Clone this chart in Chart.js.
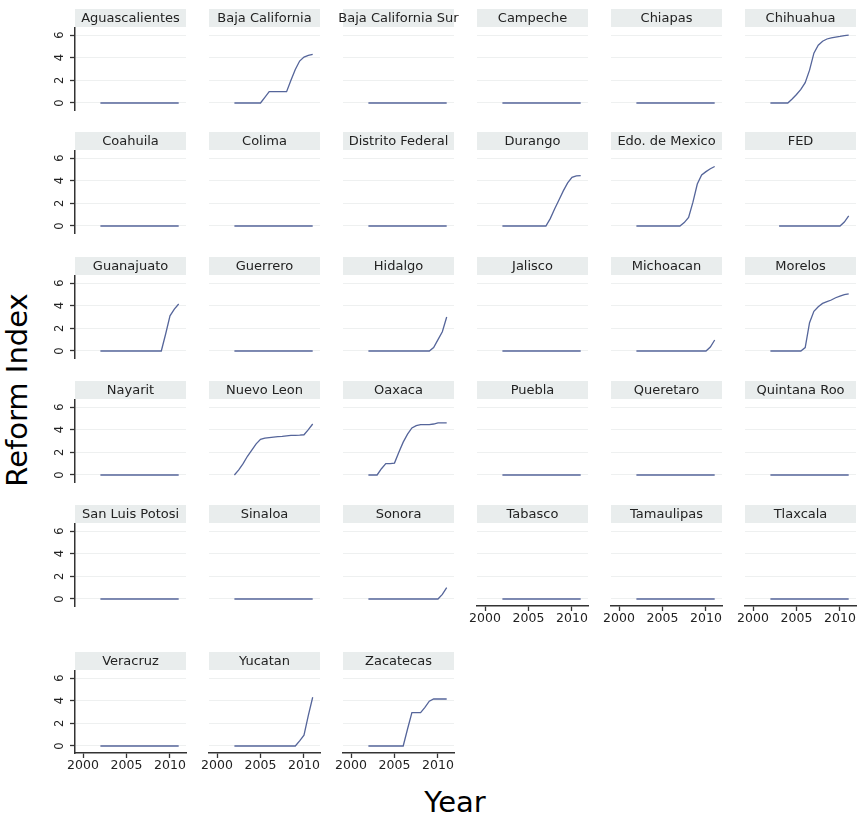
<!DOCTYPE html>
<html>
<head>
<meta charset="utf-8">
<script src="https://cdn.jsdelivr.net/npm/chart.js@4"></script>
<style>
  body { margin: 0; background: #fff; }
  #wrap { position: relative; width: 857px; height: 818px; overflow: hidden; }
  #wrap canvas { position: absolute; }
  .axt { position: absolute; font-family: "DejaVu Sans"; font-size: 29px; line-height: 1; color: #000; white-space: nowrap; }
  #ytitle { left: 17px; top: 390px; transform: translate(-50%, -50%) rotate(-90deg); }
  #xtitle { left: 455px; top: 788px; transform: translateX(-50%); }
</style>
</head>
<body>
<div id="wrap">
  <div class="axt" id="ytitle">Reform Index</div>
  <div class="axt" id="xtitle">Year</div>
</div>
<script>
// half-year periods
const periods = [2002, 2002.5, 2003, 2003.5, 2004, 2004.5, 2005, 2005.5, 2006, 2006.5,
                 2007, 2007.5, 2008, 2008.5, 2009, 2009.5, 2010, 2010.5, 2011];

const states = ['Aguascalientes', 'Baja California', 'Baja California Sur', 'Campeche', 'Chiapas', 'Chihuahua',
  'Coahuila', 'Colima', 'Distrito Federal', 'Durango', 'Edo. de Mexico', 'FED',
  'Guanajuato', 'Guerrero', 'Hidalgo', 'Jalisco', 'Michoacan', 'Morelos',
  'Nayarit', 'Nuevo Leon', 'Oaxaca', 'Puebla', 'Queretaro', 'Quintana Roo',
  'San Luis Potosi', 'Sinaloa', 'Sonora', 'Tabasco', 'Tamaulipas', 'Tlaxcala',
  'Veracruz', 'Yucatan', 'Zacatecas'];

const aguascalientes = [0, 0, 0, 0, 0, 0, 0, 0, 0, 0, 0, 0, 0, 0, 0, 0, 0, 0, 0];
const bajaCalifornia = [0, 0, 0, 0, 0, 0, 0, 0.5, 1, 1, 1, 1, 1, 2, 2.95, 3.7, 4.05, 4.2, 4.3];
const bajaCaliforniaSur = [0, 0, 0, 0, 0, 0, 0, 0, 0, 0, 0, 0, 0, 0, 0, 0, 0, 0, 0];
const campeche = [0, 0, 0, 0, 0, 0, 0, 0, 0, 0, 0, 0, 0, 0, 0, 0, 0, 0, 0];
const chiapas = [0, 0, 0, 0, 0, 0, 0, 0, 0, 0, 0, 0, 0, 0, 0, 0, 0, 0, 0];
const chihuahua = [0, 0, 0, 0, 0, 0.35, 0.75, 1.2, 1.8, 2.9, 4.4, 5.1, 5.45, 5.65, 5.75, 5.82, 5.88, 5.95, 6];
const coahuila = [0, 0, 0, 0, 0, 0, 0, 0, 0, 0, 0, 0, 0, 0, 0, 0, 0, 0, 0];
const colima = [0, 0, 0, 0, 0, 0, 0, 0, 0, 0, 0, 0, 0, 0, 0, 0, 0, 0, 0];
const distritoFederal = [0, 0, 0, 0, 0, 0, 0, 0, 0, 0, 0, 0, 0, 0, 0, 0, 0, 0, 0];
const durango = [0, 0, 0, 0, 0, 0, 0, 0, 0, 0, 0, 0.65, 1.5, 2.3, 3.1, 3.8, 4.3, 4.42, 4.45];
const edoMexico = [0, 0, 0, 0, 0, 0, 0, 0, 0, 0, 0, 0.3, 0.75, 2.1, 3.7, 4.5, 4.8, 5.05, 5.25];
const fed = [null, null, 0, 0, 0, 0, 0, 0, 0, 0, 0, 0, 0, 0, 0, 0, 0, 0.35, 0.9];
const guanajuato = [0, 0, 0, 0, 0, 0, 0, 0, 0, 0, 0, 0, 0, 0, 0, 1.5, 3.1, 3.7, 4.15];
const guerrero = [0, 0, 0, 0, 0, 0, 0, 0, 0, 0, 0, 0, 0, 0, 0, 0, 0, 0, 0];
const hidalgo = [0, 0, 0, 0, 0, 0, 0, 0, 0, 0, 0, 0, 0, 0, 0, 0.3, 1, 1.7, 3];
const jalisco = [0, 0, 0, 0, 0, 0, 0, 0, 0, 0, 0, 0, 0, 0, 0, 0, 0, 0, 0];
const michoacan = [0, 0, 0, 0, 0, 0, 0, 0, 0, 0, 0, 0, 0, 0, 0, 0, 0, 0.35, 0.97];
const morelos = [0, 0, 0, 0, 0, 0, 0, 0, 0.3, 2.5, 3.5, 3.9, 4.2, 4.35, 4.5, 4.7, 4.85, 4.98, 5.05];
const nayarit = [0, 0, 0, 0, 0, 0, 0, 0, 0, 0, 0, 0, 0, 0, 0, 0, 0, 0, 0];
const nuevoLeon = [0, 0.45, 1, 1.65, 2.2, 2.75, 3.15, 3.25, 3.3, 3.35, 3.38, 3.4, 3.45, 3.5, 3.5, 3.52, 3.55, 4, 4.5];
const oaxaca = [0, 0, 0, 0.55, 1, 1, 1.05, 2, 2.9, 3.6, 4.15, 4.35, 4.45, 4.45, 4.45, 4.5, 4.6, 4.6, 4.6];
const puebla = [0, 0, 0, 0, 0, 0, 0, 0, 0, 0, 0, 0, 0, 0, 0, 0, 0, 0, 0];
const queretaro = [0, 0, 0, 0, 0, 0, 0, 0, 0, 0, 0, 0, 0, 0, 0, 0, 0, 0, 0];
const quintanaRoo = [0, 0, 0, 0, 0, 0, 0, 0, 0, 0, 0, 0, 0, 0, 0, 0, 0, 0, 0];
const sanLuisPotosi = [0, 0, 0, 0, 0, 0, 0, 0, 0, 0, 0, 0, 0, 0, 0, 0, 0, 0, 0];
const sinaloa = [0, 0, 0, 0, 0, 0, 0, 0, 0, 0, 0, 0, 0, 0, 0, 0, 0, 0, 0];
const sonora = [0, 0, 0, 0, 0, 0, 0, 0, 0, 0, 0, 0, 0, 0, 0, 0, 0, 0.4, 1];
const tabasco = [0, 0, 0, 0, 0, 0, 0, 0, 0, 0, 0, 0, 0, 0, 0, 0, 0, 0, 0];
const tamaulipas = [0, 0, 0, 0, 0, 0, 0, 0, 0, 0, 0, 0, 0, 0, 0, 0, 0, 0, 0];
const tlaxcala = [0, 0, 0, 0, 0, 0, 0, 0, 0, 0, 0, 0, 0, 0, 0, 0, 0, 0, 0];
const veracruz = [0, 0, 0, 0, 0, 0, 0, 0, 0, 0, 0, 0, 0, 0, 0, 0, 0, 0, 0];
const yucatan = [0, 0, 0, 0, 0, 0, 0, 0, 0, 0, 0, 0, 0, 0, 0, 0.45, 0.95, 2.7, 4.3];
const zacatecas = [0, 0, 0, 0, 0, 0, 0, 0, 0, 1.5, 2.95, 2.95, 2.95, 3.4, 3.95, 4.15, 4.15, 4.15, 4.15];

const stateValues = [aguascalientes, bajaCalifornia, bajaCaliforniaSur, campeche, chiapas, chihuahua,
  coahuila, colima, distritoFederal, durango, edoMexico, fed,
  guanajuato, guerrero, hidalgo, jalisco, michoacan, morelos,
  nayarit, nuevoLeon, oaxaca, puebla, queretaro, quintanaRoo,
  sanLuisPotosi, sinaloa, sonora, tabasco, tamaulipas, tlaxcala,
  veracruz, yucatan, zacatecas];

const yTicks = [0, 2, 4, 6];
const xTicks = [2000, 2005, 2010];

// grid layout (plot-area left edge per column, strip top per row)
const colLeft = [75, 209, 343, 477, 611, 745];
const rowTop = [9, 132, 257, 381, 505, 652];
const AXIS_W = 40, PLOT_W = 111, PAD_R = 10, STRIP_H = 18, PLOT_BOTTOM = 101, XAXIS_H = 34;

const lineColor = '#55659a';
const axisColor = '#333333';
const gridColor = '#eef0f0';

// grey title strip above each panel
const stripPlugin = {
  id: 'strip',
  beforeDraw(chart, args, opts) {
    const { ctx, chartArea } = chart;
    ctx.save();
    ctx.fillStyle = '#e9eded';
    ctx.fillRect(chartArea.left, 0, chartArea.right - chartArea.left, STRIP_H);
    ctx.fillStyle = '#222';
    ctx.font = '13px "DejaVu Sans"';
    ctx.textAlign = 'center';
    ctx.textBaseline = 'middle';
    ctx.fillText(opts.text, (chartArea.left + chartArea.right) / 2, STRIP_H / 2 + 0.5);
    ctx.restore();
  }
};

const wrap = document.getElementById('wrap');

states.forEach((name, i) => {
  const row = Math.floor(i / 6), col = i % 6;
  const hasY = col === 0;
  const hasX = i + 6 >= states.length;

  const canvas = document.createElement('canvas');
  canvas.width = AXIS_W + PLOT_W + PAD_R;
  canvas.height = PLOT_BOTTOM + XAXIS_H;
  canvas.style.left = (colLeft[col] - AXIS_W) + 'px';
  canvas.style.top = rowTop[row] + 'px';
  wrap.appendChild(canvas);

  const vals = stateValues[i];

  new Chart(canvas, {
    type: 'line',
    data: {
      datasets: [{
        data: vals.map((v, k) => ({ x: periods[k], y: v })),
        borderColor: lineColor,
        borderWidth: 1.3,
        pointRadius: 0,
        fill: false,
        tension: 0
      }]
    },
    options: {
      responsive: false,
      animation: false,
      devicePixelRatio: 1,
      layout: { padding: { top: STRIP_H + 1, right: PAD_R, left: 0, bottom: 0 } },
      plugins: {
        legend: { display: false },
        tooltip: { enabled: false },
        strip: { text: name }
      },
      scales: {
        x: {
          type: 'linear',
          min: 1999.08,
          max: 2011.84,
          afterBuildTicks: s => { s.ticks = xTicks.map(v => ({ value: v })); },
          afterFit: s => { s.height = XAXIS_H; },
          grid: { display: hasX, drawOnChartArea: false, drawTicks: hasX, tickLength: 5, tickColor: axisColor, tickWidth: 1.3 },
          border: { display: hasX, color: axisColor, width: 1.5 },
          ticks: {
            display: hasX, padding: 0, color: '#222', maxRotation: 0,
            font: { family: 'DejaVu Sans', size: 12.5 },
            callback: v => String(v)
          }
        },
        y: {
          min: -0.62,
          max: 6.62,
          afterBuildTicks: s => { s.ticks = yTicks.map(v => ({ value: v })); },
          afterFit: s => { s.width = AXIS_W; },
          grid: { color: gridColor, drawTicks: hasY, tickLength: 5, tickColor: axisColor, tickWidth: 1.3 },
          border: { display: hasY, color: axisColor, width: 1.5 },
          ticks: {
            display: hasY, padding: 6, crossAlign: 'center', minRotation: 90, maxRotation: 90,
            color: '#222', font: { family: 'DejaVu Sans', size: 11.5 },
            callback: v => String(v)
          }
        }
      }
    },
    plugins: [stripPlugin]
  });
});
</script>
</body>
</html>
